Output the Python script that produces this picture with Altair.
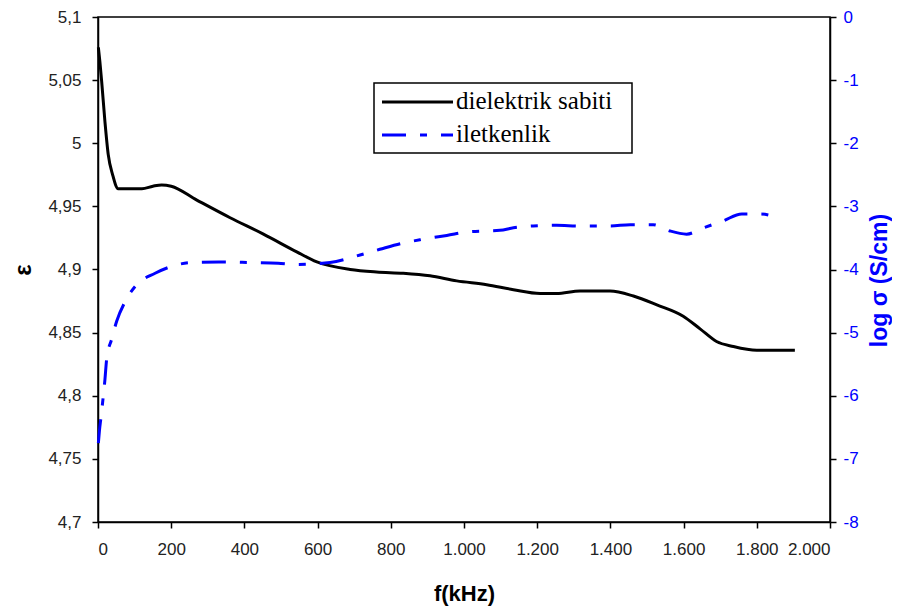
import altair as alt
import pandas as pd

# ---- data ----
eps_f = [1, 5, 10, 19, 28, 40, 55, 87, 120, 150, 174, 200, 270, 361, 452, 543, 598,
         689, 761, 834, 907, 980, 1062, 1135, 1208, 1253, 1317, 1399, 1463, 1527,
         1599, 1645, 1690, 1736, 1800, 1904]
eps_v = [5.076, 5.065, 5.049, 5.017, 4.991, 4.975, 4.964, 4.964, 4.964, 4.966, 4.967,
         4.966, 4.955, 4.941, 4.928, 4.914, 4.906, 4.900, 4.898, 4.897, 4.895, 4.891,
         4.888, 4.884, 4.881, 4.881, 4.883, 4.883, 4.879, 4.872, 4.863, 4.853, 4.843,
         4.839, 4.836, 4.836]

sig_f = [1, 4, 8, 14, 19, 24, 37, 51, 74, 106, 156, 201, 256, 330, 420, 492, 543, 634,
         716, 770, 834, 889, 953, 1016, 1098, 1135, 1189, 1253, 1317, 1399, 1454, 1517,
         1563, 1608, 1654, 1708, 1759, 1809, 1859]
sig_v = [-6.75, -6.55, -6.35, -6.03, -5.74, -5.40, -5.11, -4.82, -4.51, -4.24, -4.06,
         -3.95, -3.89, -3.88, -3.89, -3.90, -3.92, -3.89, -3.77, -3.68, -3.58, -3.52,
         -3.46, -3.40, -3.38, -3.34, -3.31, -3.30, -3.31, -3.31, -3.29, -3.29, -3.39,
         -3.44, -3.34, -3.23, -3.12, -3.12, -3.18]

x_ticks = [0, 200, 400, 600, 800, 1000, 1200, 1400, 1600, 1800, 2000]
eps_ticks = [4.7, 4.75, 4.8, 4.85, 4.9, 4.95, 5, 5.05, 5.1]
sig_ticks = [0, -1, -2, -3, -4, -5, -6, -7, -8]
legend_labels = ["dielektrik sabiti", "iletkenlik"]

BLUE = "#0000FF"
DASH = [24, 14, 7, 14]
SANS = "Liberation Sans"
SERIF = "Liberation Serif"

eps_df = pd.DataFrame({"f": eps_f, "eps": eps_v})
sig_df = pd.DataFrame({"f": sig_f, "sig": sig_v})

xenc = alt.X("f:Q", scale=alt.Scale(domain=[0, 2000], nice=False, zero=False),
             axis=alt.Axis(values=x_ticks, title="f(kHz)",
                           labelExpr="replace(format(datum.value, ','), ',', '.')",
                           titlePadding=26, labelPadding=13))

eps_line = alt.Chart(eps_df).mark_line(color="black", strokeWidth=3,
                                       interpolate="monotone").encode(
    x=xenc,
    y=alt.Y("eps:Q", scale=alt.Scale(domain=[4.7, 5.1], nice=False, zero=False),
            axis=alt.Axis(values=eps_ticks, title="ε", orient="left",
                          labelExpr="replace(toString(datum.value), '.', ',')",
                          titleFontSize=24, titlePadding=12, labelPadding=11)),
)

sig_line = alt.Chart(sig_df).mark_line(color=BLUE, strokeWidth=3, strokeDash=DASH,
                                       interpolate="monotone").encode(
    x=alt.X("f:Q"),
    y=alt.Y("sig:Q", scale=alt.Scale(domain=[-8, 0], nice=False, zero=False),
            axis=alt.Axis(values=sig_ticks, title="log σ (S/cm)", orient="right",
                          labelExpr="toString(datum.value)",
                          labelColor=BLUE, titleColor=BLUE, titleAngle=270,
                          titleFontSize=23, titlePadding=33, titleY=263,
                          labelPadding=7)),
)

# ---- legend (drawn box inside plot) ----
one = pd.DataFrame({"k": [0]})
box = alt.Chart(one).mark_rect(fill="white", stroke="black", strokeWidth=1.5).encode(
    x=alt.value(276), x2=alt.value(534), y=alt.value(66), y2=alt.value(136))
leg_l1 = alt.Chart(one).mark_rule(color="black", strokeWidth=3).encode(
    x=alt.value(284), x2=alt.value(355), y=alt.value(85))
leg_l2 = alt.Chart(one).mark_rule(color=BLUE, strokeWidth=3, strokeDash=DASH).encode(
    x=alt.value(284), x2=alt.value(355), y=alt.value(118))
leg_t1 = alt.Chart(pd.DataFrame({"label": [legend_labels[0]]})).mark_text(
    font=SERIF, fontSize=25, align="left", baseline="alphabetic", color="black").encode(
    x=alt.value(358), y=alt.value(92), text="label:N")
leg_t2 = alt.Chart(pd.DataFrame({"label": [legend_labels[1]]})).mark_text(
    font=SERIF, fontSize=25, align="left", baseline="alphabetic", color="black").encode(
    x=alt.value(358), y=alt.value(125), text="label:N")

chart = alt.layer(eps_line, sig_line, box, leg_l1, leg_l2, leg_t1, leg_t2).resolve_scale(
    y="independent"
).properties(
    width=732, height=505,
    autosize=alt.AutoSizeParams(type="none"),
    padding={"left": 90, "top": 9, "right": 62, "bottom": 85},
    background="white",
).configure_view(
    stroke="black", strokeWidth=1.5
).configure_axis(
    grid=False, domainColor="black", domainWidth=1.5, tickColor="black",
    tickWidth=1.5, tickSize=6, labelFont=SANS, labelFontSize=17, labelColor="#222222",
    titleFont=SANS, titleFontSize=22, titleFontWeight="bold", titleColor="black",
)

chart.save("out.html", embed_options={"renderer": "svg", "actions": False})
